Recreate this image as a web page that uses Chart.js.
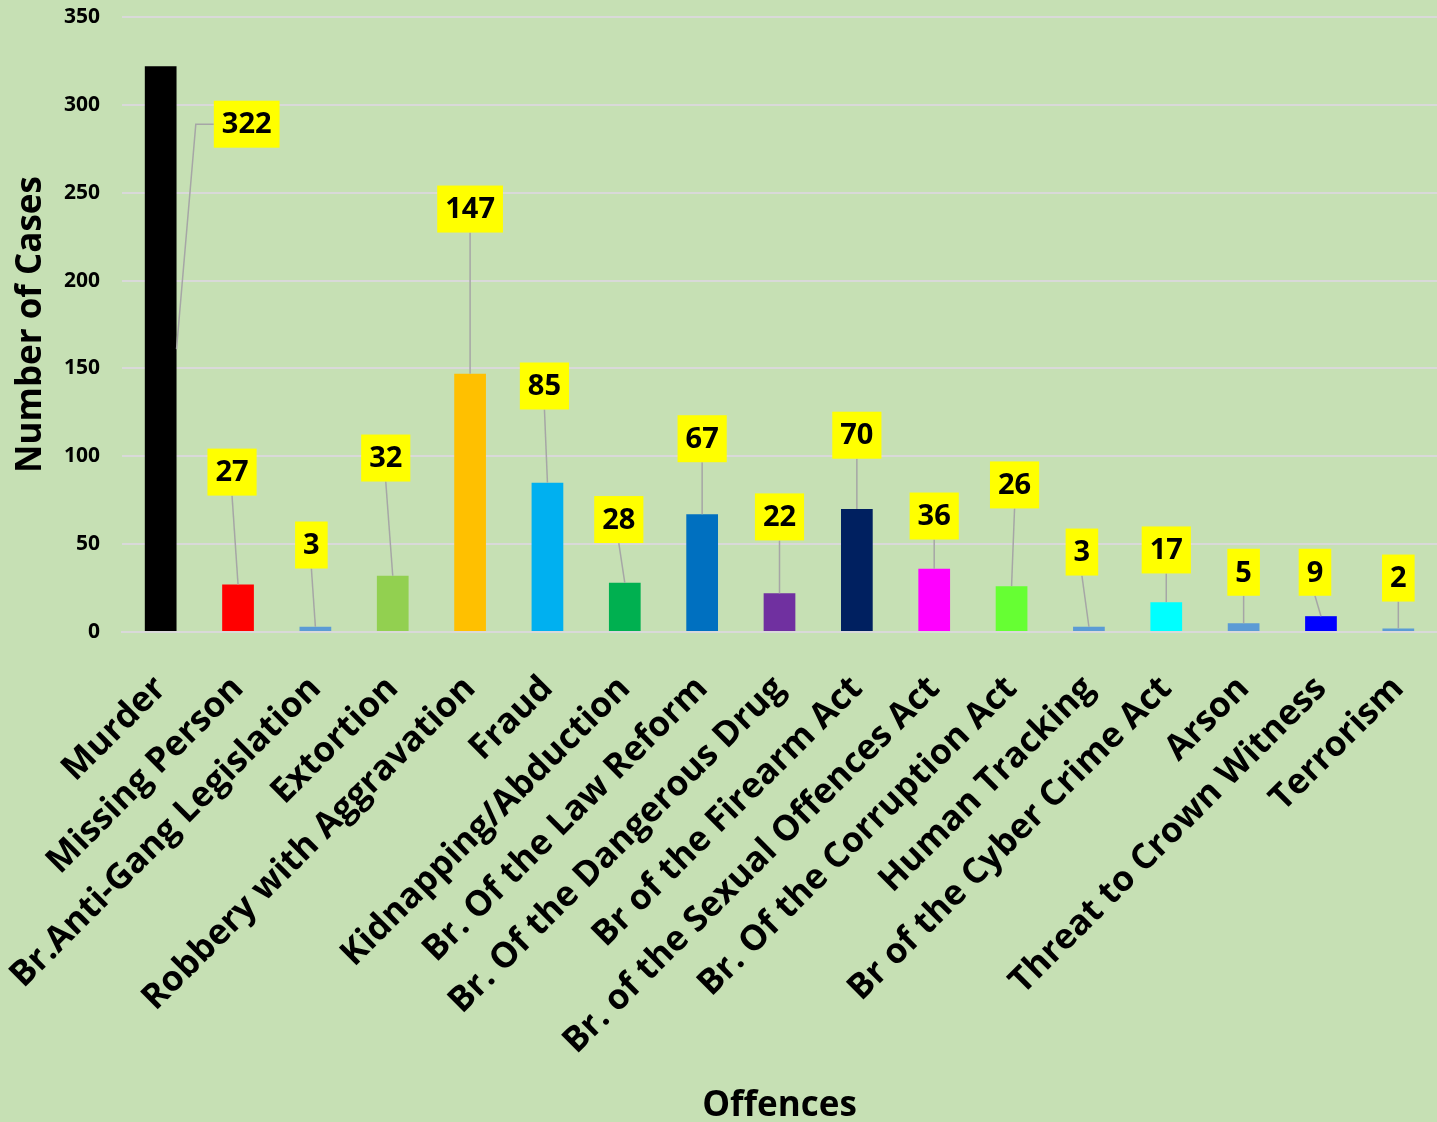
<!DOCTYPE html>
<html>
<head>
<meta charset="utf-8">
<script src="https://cdn.jsdelivr.net/npm/chart.js@4.4.1/dist/chart.umd.min.js"></script>
<style>
  html, body { margin: 0; padding: 0; background: #C6E0B4; }
  #wrap { width: 1437px; height: 1122px; }
</style>
</head>
<body>
<div id="wrap"><canvas id="offenceChart" width="1437" height="1122"></canvas></div>
<script>
const offences = [
  "Murder", "Missing Person", "Br.Anti-Gang Legislation", "Extortion",
  "Robbery with Aggravation", "Fraud", "Kidnapping/Abduction",
  "Br. Of the Law Reform", "Br. Of the Dangerous Drug", "Br of the Firearm Act",
  "Br. of the Sexual Offences Act", "Br. Of the Corruption Act", "Human Tracking",
  "Br of the Cyber Crime Act", "Arson", "Threat to Crown Witness", "Terrorism"
];
const cases = [322, 27, 3, 32, 147, 85, 28, 67, 22, 70, 36, 26, 3, 17, 5, 9, 2];
const barColors = [
  "#000000", "#FF0000", "#5B9BD5", "#92D050", "#FFC000", "#00B0F0", "#00B050",
  "#0070C0", "#7030A0", "#002060", "#FF00FF", "#66FF33", "#5B9BD5", "#00FFFF",
  "#5B9BD5", "#0000FF", "#5B9BD5"
];
const yTicks = [0, 50, 100, 150, 200, 250, 300, 350];

// where each yellow label sits: height in axis units, sideways shift in px
const labelLevel = [289, 91, 49.5, 99, 240.7, 140, 64, 110, 65.5, 112, 66, 83.7, 45.5, 46.7, 34, 34, 30.7];
const labelShift = [86, -6, -4, -7, 0, -3, -6, 0, 0, 0, 0, 3, -7, 0, 0, -6, 0];

const FONT = "'Open Sans', 'Liberation Sans', sans-serif";

const leaderLabels = {
  id: 'leaderLabels',
  afterDatasetsDraw(chart) {
    const ctx = chart.ctx;
    const y = chart.scales.y;
    const bars = chart.getDatasetMeta(0).data;
    ctx.save();
    ctx.font = "bold 29px " + FONT;
    bars.forEach((bar, i) => {
      const txt = String(cases[i]);
      const w = ctx.measureText(txt).width + 16;
      const h = 47;
      const cx = bar.x + labelShift[i];
      const cy = y.getPixelForValue(labelLevel[i]);
      const left = cx - w / 2, top = cy - h / 2;

      ctx.strokeStyle = "#A6A6A6";
      ctx.lineWidth = 1.5;
      ctx.beginPath();
      if (Math.abs(labelShift[i]) > 40) {
        const ax = bar.x + bar.width / 2;
        const ay = y.getPixelForValue(cases[i] / 2);
        ctx.moveTo(ax, ay);
        ctx.lineTo(left - 18, cy);
        ctx.lineTo(left, cy);
      } else {
        ctx.moveTo(bar.x, bar.y);
        ctx.lineTo(cx, top + h);
      }
      ctx.stroke();

      ctx.fillStyle = "#FFFF00";
      ctx.fillRect(left, top, w, h);
      ctx.fillStyle = "#000000";
      ctx.textAlign = "center";
      ctx.textBaseline = "middle";
      ctx.fillText(txt, cx, cy + 1);
    });
    ctx.restore();
  }
};

new Chart(document.getElementById('offenceChart').getContext('2d'), {
  type: 'bar',
  data: {
    labels: offences,
    datasets: [{
      data: cases,
      backgroundColor: barColors,
      barPercentage: 0.82,
      categoryPercentage: 0.5
    }]
  },
  options: {
    responsive: false,
    animation: false,
    devicePixelRatio: 1,
    layout: { padding: { top: 17, right: 0, left: 0, bottom: 0 } },
    plugins: {
      legend: { display: false },
      tooltip: { enabled: false }
    },
    scales: {
      x: {
        grid: { display: false },
        border: { color: "#D9D9D9", width: 2 },
        ticks: {
          color: "#000",
          font: { family: FONT, size: 35, weight: 'bold' },
          minRotation: 45,
          maxRotation: 45,
          padding: 28,
          autoSkip: false
        },
        title: {
          display: true,
          text: "Offences",
          color: "#000",
          font: { family: FONT, size: 35, weight: 'bold' },
          padding: { top: 0, bottom: -5 }
        },
        afterFit(scale) {
          scale.height = 490;
          scale.paddingLeft = 0;
          scale.paddingRight = 0;
        }
      },
      y: {
        min: 0,
        max: 350,
        afterBuildTicks(scale) { scale.ticks = yTicks.map(v => ({ value: v })); },
        grid: { color: "#D9D9D9", lineWidth: 2, drawTicks: false },
        border: { display: false },
        ticks: {
          color: "#000",
          font: { family: FONT, size: 21, weight: 'bold' },
          padding: 22
        },
        title: {
          display: true,
          text: "Number of Cases",
          color: "#000",
          font: { family: FONT, size: 35, weight: 'bold' },
          padding: { top: 10, bottom: 0 }
        },
        afterFit(scale) {
          scale.width = 122;
          scale.paddingTop = 0;
          scale.paddingBottom = 0;
        }
      }
    }
  },
  plugins: [leaderLabels]
});
</script>
</body>
</html>
